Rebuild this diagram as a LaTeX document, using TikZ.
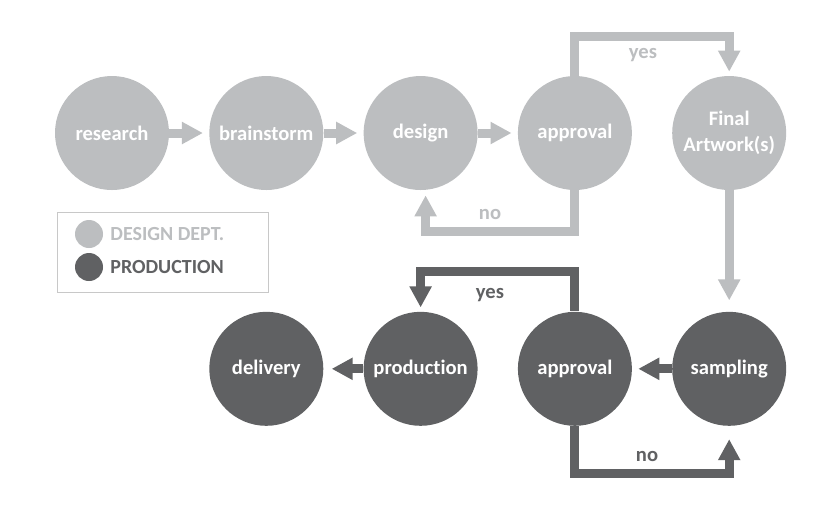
\documentclass[tikz,border=0pt]{standalone}
\usepackage{fontspec}
\newfontfamily\labelfont[Ligatures=NoCommon]{Carlito}
\usetikzlibrary{arrows.meta,positioning}
\definecolor{designgray}{HTML}{BCBEC0}
\definecolor{prodgray}{HTML}{606163}
\definecolor{keyline}{HTML}{C8C8C8}

\begin{document}
\begin{tikzpicture}[x=0.5pt, y=-0.5pt,
  node distance=19.75pt,
  stage/.style={circle, minimum size=57pt, inner sep=0pt, align=center, text=white, font=\labelfont\bfseries\fontsize{10.3}{12.8}\selectfont},
  dsg/.style={stage, fill=designgray},
  prd/.style={stage, fill=prodgray},
  darr/.style={-{Triangle[length=10.5pt, width=10.5pt]}, line width=4.5pt, designgray},
  parr/.style={darr, prodgray},
  tag/.style={inner sep=0pt, font=\labelfont\bfseries\fontsize{10.3}{11}\selectfont},
  keytext/.style={tag, anchor=west, font=\labelfont\bfseries\fontsize{10}{11}\selectfont}
]
  \useasboundingbox[fill=white] (0,0) rectangle (840,511);

  % design dept.
  \node[dsg] (res) at (112,133) {research};
  \node[dsg, right=of res] (brain) {brainstorm};
  \node[dsg, right=of brain] (des) {design};
  \node[dsg, right=of des] (appr) {approval};
  \node[dsg, right=of appr] (final) {Final\\Artwork(s)};

  % production
  \node[prd, below=60.5pt of final] (samp) {sampling};
  \node[prd, left=of samp] (pappr) {approval};
  \node[prd, left=of pappr] (prod) {production};
  \node[prd, left=of prod] (deliv) {delivery};

  \draw[darr] (res) -- ([xshift=-3pt]brain.west);
  \draw[darr] (brain) -- ([xshift=-3pt]des.west);
  \draw[darr] (des) -- ([xshift=-3pt]appr.west);
  \draw[darr] (appr.north) -- ++(0,-39) -| ([yshift=2pt]final.north);
  \draw[darr] (appr.south) -- ++(0,41) -| ([xshift=2.5pt,yshift=-2.5pt]des.south);
  \draw[darr] (final) -- ([yshift=5.5pt]samp.north);
  \node[tag, designgray] (yes1) at (643,55) {yes};
  \node[tag, designgray] (no1) at (490,214) {no};

  \draw[parr] (samp) -- ([xshift=3pt]pappr.east);
  \draw[parr] (prod) -- ([xshift=4pt]deliv.east);
  \draw[parr] (pappr.north) -- ++(0,-40) -| ([yshift=2pt]prod.north);
  \draw[parr] (pappr.south) -- ++(0,47) -| ([yshift=-6.5pt]samp.south);
  \node[tag, prodgray] (yes2) at (490,295) {yes};
  \node[tag, prodgray] (no2) at (647,456) {no};

  % legend
  \node[draw=keyline, line width=0.5pt, fill=white, minimum width=105.5pt, minimum height=40pt, inner sep=0pt] (key) at (162.5,252) {};
  \node[circle, fill=designgray, minimum size=14pt, inner sep=0pt] (kd) at (89,234) {};
  \node[circle, fill=prodgray, minimum size=14pt, inner sep=0pt] (kp) at (89,267) {};
  \node[keytext, designgray] (kdt) at (110,234) {DESIGN DEPT.};
  \node[keytext, prodgray] (kpt) at (110,267) {PRODUCTION};
\end{tikzpicture}
\end{document}
